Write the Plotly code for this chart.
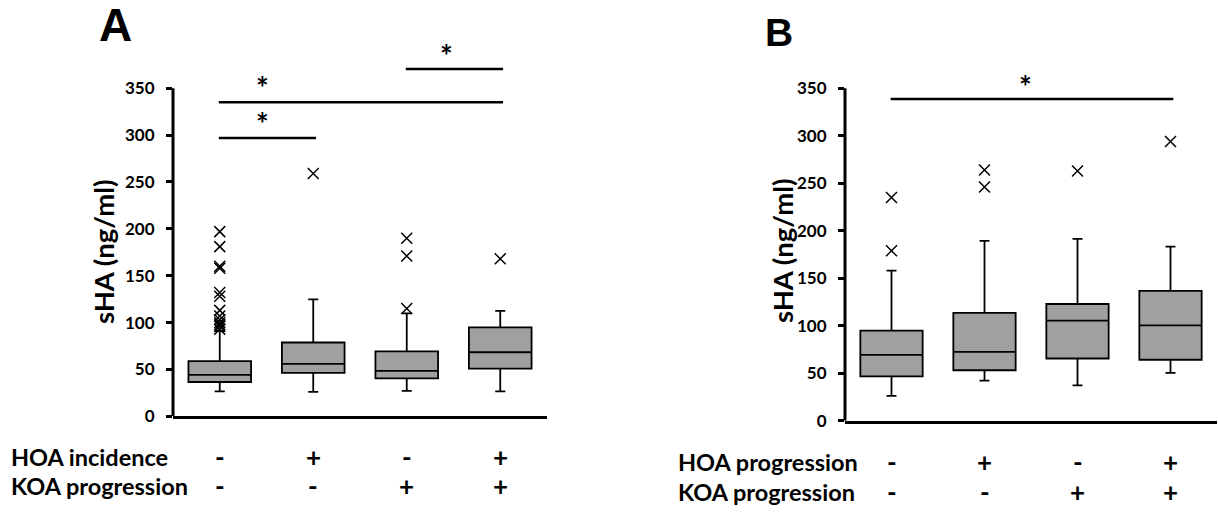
import plotly.graph_objects as go

# ---------------- data ----------------
groups = [0, 1, 2, 3]

# Panel A: HOA incidence / KOA progression
a_q1 = [36.6, 46.3, 40.4, 50.9]
a_median = [44.2, 56.0, 48.4, 68.3]
a_q3 = [58.8, 78.7, 69.3, 94.8]
a_lower = [26.5, 26.0, 27.2, 26.5]
a_upper = [91.0, 124.7, 109.7, 112.5]
a_outliers = [
    [197, 181, 160, 158, 132, 128, 113, 107, 103, 100, 98, 96, 93],
    [259],
    [115, 171, 190],
    [168],
]
a_row1 = ["-", "+", "-", "+"]
a_row2 = ["-", "-", "+", "+"]
a_row_labels = ["HOA incidence", "KOA progression"]
a_comparisons = [(0, 1), (0, 3), (2, 3)]

# Panel B: HOA progression / KOA progression
b_q1 = [46.6, 53.1, 65.5, 64.2]
b_median = [69.4, 72.5, 105.3, 100.4]
b_q3 = [94.9, 113.6, 122.9, 136.6]
b_lower = [26.2, 42.1, 37.3, 50.4]
b_upper = [158.0, 189.4, 191.5, 183.2]
b_outliers = [
    [179, 235],
    [246, 264],
    [263],
    [294],
]
b_row1 = ["-", "+", "-", "+"]
b_row2 = ["-", "-", "+", "+"]
b_row_labels = ["HOA progression", "KOA progression"]
b_comparisons = [(0, 3)]

y_ticks = [0, 50, 100, 150, 200, 250, 300, 350]

# ---------------- styling ----------------
W, H = 1218, 517
FONT = "Lato"
BOX_FILL = "#a0a0a0"

fig = go.Figure()

def add_panel(q1, med, q3, lo, hi, outl, xa, ya):
    fig.add_trace(go.Box(
        x=groups, q1=q1, median=med, q3=q3, lowerfence=lo, upperfence=hi,
        width=0.67, whiskerwidth=0.16, boxpoints=False,
        fillcolor=BOX_FILL, line=dict(color="black", width=1.8),
        xaxis=xa, yaxis=ya, showlegend=False, hoverinfo="skip"))
    ox, oy = [], []
    for g, vals in zip(groups, outl):
        for v in vals:
            ox.append(g)
            oy.append(v)
    fig.add_trace(go.Scatter(
        x=ox, y=oy, mode="markers",
        marker=dict(symbol="x-thin-open", size=11, color="black",
                    line=dict(color="black", width=1.5)),
        xaxis=xa, yaxis=ya, showlegend=False, cliponaxis=False, hoverinfo="skip"))

add_panel(a_q1, a_median, a_q3, a_lower, a_upper, a_outliers, "x", "y")
add_panel(b_q1, b_median, b_q3, b_lower, b_upper, b_outliers, "x2", "y2")

def px_x(v):
    return v / W

def px_y(v):
    return 1 - v / H

axis_common = dict(range=[-0.5, 3.5], showgrid=False, zeroline=False,
                   showticklabels=False, ticks="", showline=True,
                   linecolor="black", linewidth=3, fixedrange=True)
yaxis_common = dict(range=[0, 400], showgrid=False, zeroline=False, showline=False,
                    tickvals=y_ticks, ticks="outside", ticklen=6, tickwidth=2.5,
                    tickcolor="black", ticklabelstandoff=8,
                    tickfont=dict(family=FONT, size=17, color="black", weight="bold"),
                    fixedrange=True)

fig.update_layout(
    width=W, height=H, autosize=False,
    margin=dict(l=0, r=0, t=0, b=0, pad=0),
    paper_bgcolor="white", plot_bgcolor="white",
    xaxis=dict(domain=[px_x(173), px_x(547)], anchor="y", **axis_common),
    yaxis=dict(domain=[px_y(424.5), px_y(42.2)], anchor="x", **yaxis_common),
    xaxis2=dict(domain=[px_x(845), px_x(1217)], anchor="y2", **axis_common),
    yaxis2=dict(domain=[px_y(429), px_y(41.6)], anchor="x2", **yaxis_common),
)

shapes = []
annotations = []

def text_ann(text, x, y, xr, yr, size, family=FONT, angle=0, xanchor="center"):
    annotations.append(dict(text=text, xref=xr, yref=yr, x=x, y=y,
                            xanchor=xanchor, yanchor="middle", textangle=angle,
                            showarrow=False,
                            font=dict(family=family, size=size, color="black")))

# y axis lines stopping at 350
for xr, yr in [("x domain", "y"), ("x2 domain", "y2")]:
    shapes.append(dict(type="line", xref=xr, yref=yr, x0=0, x1=0, y0=0, y1=350,
                       line=dict(color="black", width=3)))

# significance bars
def add_sig(comps, levels, star_x, star_y, xr, yr):
    for (i, j), lv, sx, sy in zip(comps, levels, star_x, star_y):
        shapes.append(dict(type="line", xref=xr, yref=yr, x0=i - 0.01, x1=j + 0.03,
                           y0=lv, y1=lv, line=dict(color="black", width=2.5)))
        text_ann("<b>*</b>", sx, sy, xr, yr, 30)

add_sig(a_comparisons, [297, 335, 370.5], [0.46, 0.46, 2.43], [313, 351, 386], "x", "y")
add_sig(b_comparisons, [338.6], [1.44], [352], "x2", "y2")

# panel letters
text_ann("<b>A</b>", px_x(115), px_y(25), "paper", "paper", 46, family="Liberation Sans")
text_ann("<b>B</b>", px_x(779), px_y(33), "paper", "paper", 39, family="Liberation Sans")

# y titles
for xc, yc in [(103, 256), (782, 256)]:
    text_ann("<b>sHA (ng/ml)</b>", px_x(xc), px_y(yc), "paper", "paper", 27.5, angle=-90)

# group indicator rows
def add_rows(labels, row1, row2, xr, left_px, y1_px, y2_px):
    for lab, row, ypx in [(labels[0], row1, y1_px), (labels[1], row2, y2_px)]:
        text_ann("<b>" + lab + "</b>", px_x(left_px), px_y(ypx), "paper", "paper",
                 23.5, xanchor="left")
        for g, s in zip(groups, row):
            text_ann("<b>" + s + "</b>", g, px_y(ypx), xr, "paper", 26)

add_rows(a_row_labels, a_row1, a_row2, "x", 9, 466, 496)
add_rows(b_row_labels, b_row1, b_row2, "x2", 676, 471, 502)

fig.update_layout(shapes=shapes, annotations=annotations)

fig.write_html("out.html")
